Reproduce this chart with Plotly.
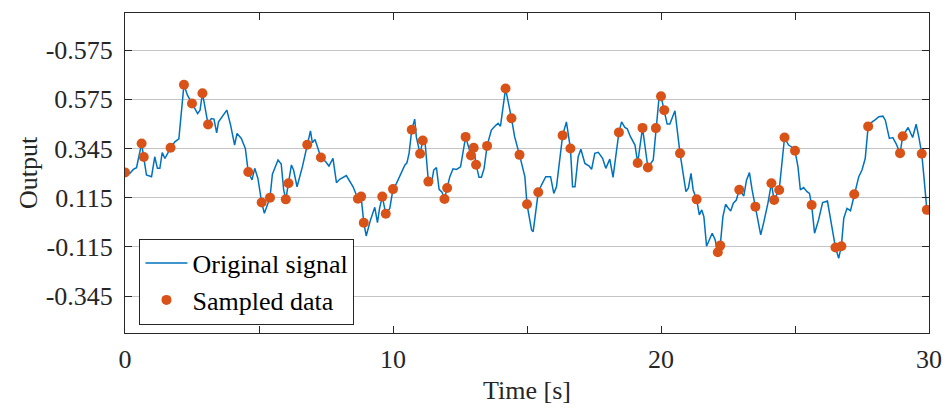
import plotly.graph_objects as go

# Original signal (time in s, output)
signal_t = [
    0.00, 0.18, 0.31, 0.43, 0.62, 0.70, 0.80, 0.99, 1.11, 1.21, 1.30, 1.39, 1.49, 1.70, 1.86, 2.01,
    2.20, 2.33, 2.50, 2.71, 2.80, 2.89, 3.10, 3.22, 3.32, 3.42, 3.49, 3.59, 3.80, 3.94, 4.09, 4.18,
    4.34, 4.49, 4.60, 4.74, 4.84, 4.96, 5.10, 5.20, 5.41, 5.50, 5.71, 5.83, 5.92, 6.00, 6.10, 6.21,
    6.29, 6.42, 6.62, 6.71, 6.80, 6.92, 6.99, 7.09, 7.31, 7.49, 7.61, 7.76, 7.89, 8.01, 8.26, 8.38,
    8.51, 8.69, 8.81, 8.91, 9.00, 9.16, 9.32, 9.42, 9.50, 9.60, 9.73, 9.88, 10.00, 10.13, 10.25, 10.44,
    10.52, 10.60, 10.70, 10.81, 10.87, 11.01, 11.11, 11.19, 11.32, 11.42, 11.52, 11.62, 11.72, 11.83,
    11.92, 12.02, 12.12, 12.24, 12.37, 12.52, 12.71, 12.91, 13.01, 13.10, 13.21, 13.30, 13.40, 13.51,
    13.67, 13.80, 13.92, 14.01, 14.20, 14.42, 14.54, 14.72, 14.86, 14.92, 15.00, 15.17, 15.23, 15.42,
    15.54, 15.70, 15.88, 16.00, 16.10, 16.23, 16.33, 16.47, 16.62, 16.70, 16.79, 16.91, 17.01, 17.16,
    17.32, 17.41, 17.53, 17.66, 17.82, 17.94, 18.09, 18.21, 18.43, 18.53, 18.65, 18.74, 18.86, 19.03,
    19.13, 19.31, 19.51, 19.71, 19.81, 19.93, 20.00, 20.12, 20.23, 20.33, 20.52, 20.71, 20.83, 20.93,
    21.02, 21.12, 21.20, 21.33, 21.43, 21.52, 21.60, 21.70, 21.91, 22.02, 22.12, 22.21, 22.31, 22.41,
    22.50, 22.60, 22.70, 22.81, 22.92, 23.09, 23.19, 23.30, 23.40, 23.52, 23.72, 23.84, 23.99, 24.12,
    24.22, 24.41, 24.61, 24.76, 24.86, 25.00, 25.11, 25.20, 25.32, 25.45, 25.54, 25.62, 25.73, 25.88,
    26.03, 26.21, 26.32, 26.51, 26.63, 26.73, 26.82, 26.94, 27.07, 27.21, 27.38, 27.50, 27.62, 27.73,
    27.88, 28.00, 28.13, 28.28, 28.37, 28.52, 28.65, 28.77, 28.92, 29.02, 29.22, 29.39, 29.52, 29.62,
    29.73, 29.81, 29.92, 30.00,
]
signal_y = [
    0.233, 0.228, 0.247, 0.255, 0.368, 0.305, 0.221, 0.213, 0.306, 0.252, 0.252, 0.326, 0.298, 0.348, 0.376, 0.390,
    0.643, 0.594, 0.555, 0.508, 0.524, 0.603, 0.457, 0.485, 0.482, 0.418, 0.469, 0.485, 0.524, 0.454, 0.361, 0.415,
    0.392, 0.345, 0.235, 0.198, 0.252, 0.205, 0.092, 0.042, 0.115, 0.225, 0.291, 0.272, 0.151, 0.107, 0.182, 0.268,
    0.244, 0.166, 0.260, 0.306, 0.362, 0.427, 0.372, 0.387, 0.303, 0.283, 0.263, 0.299, 0.185, 0.201, 0.218, 0.194,
    0.166, 0.110, 0.120, -0.002, -0.064, 0.011, 0.070, -0.002, 0.066, 0.120, 0.040, 0.065, 0.155, 0.182, 0.213, 0.267,
    0.278, 0.322, 0.432, 0.482, 0.399, 0.320, 0.382, 0.384, 0.190, 0.171, 0.244, 0.256, 0.154, 0.141,
    0.109, 0.160, 0.213, 0.250, 0.247, 0.259, 0.399, 0.312, 0.348, 0.269, 0.210, 0.210, 0.252, 0.357,
    0.431, 0.449, 0.462, 0.449, 0.625, 0.486, 0.399, 0.315, 0.232, 0.213, 0.084, -0.036, -0.044, 0.140,
    0.174, 0.213, 0.213, 0.135, 0.166, 0.306, 0.406, 0.469, 0.345, 0.166, 0.166, 0.306, 0.341, 0.275,
    0.263, 0.247, 0.322, 0.327, 0.299, 0.252, 0.295, 0.210, 0.420, 0.469, 0.443, 0.437, 0.400, 0.361,
    0.277, 0.441, 0.256, 0.291, 0.440, 0.586, 0.589, 0.524, 0.459, 0.459, 0.521, 0.322, 0.229, 0.143,
    0.159, 0.229, 0.151, 0.107, 0.034, 0.058, 0.026, -0.112, -0.051, -0.082, -0.140, -0.109, 0.026, 0.084,
    0.068, 0.053, 0.089, 0.104, 0.152, 0.123, 0.197, 0.232, 0.151, 0.073, -0.059, 0.003, 0.089, 0.182,
    0.104, 0.151, 0.396, 0.361, 0.353, 0.334, 0.260, 0.151, 0.162, 0.143, 0.135, 0.081, -0.051, 0.011,
    0.092, 0.099, 0.026, -0.118, -0.168, -0.112, 0.019, 0.065, 0.054, 0.131, 0.213, 0.244, 0.298, 0.448,
    0.469, 0.480, 0.493, 0.496, 0.477, 0.392, 0.396, 0.368, 0.323, 0.402, 0.443, 0.396, 0.458, 0.399,
    0.320, 0.213, 0.058, 0.040,
]

# Sampled data points
sample_t = [
    0.00, 0.62, 0.70, 1.70, 2.20, 2.50, 2.89, 3.10, 4.60, 5.10, 5.41, 6.00, 6.10, 6.80, 7.31, 8.69,
    8.81, 8.91, 9.60, 9.73, 10.00, 10.70, 11.01, 11.11, 11.32, 11.92, 12.02, 12.71, 12.91, 13.01, 13.10,
    13.51, 14.20, 14.42, 14.72, 15.00, 15.42, 16.33, 16.62, 18.43, 19.13, 19.31, 19.51, 19.81, 20.00,
    20.12, 20.71, 21.33, 22.12, 22.21, 22.92, 23.52, 24.12, 24.22, 24.41, 24.61, 25.00, 25.62, 26.51,
    26.73, 27.21, 27.73, 28.92, 29.02, 29.73, 29.92,
]
sample_y = [
    0.233, 0.368, 0.305, 0.348, 0.643, 0.555, 0.603, 0.457, 0.235, 0.092, 0.115, 0.107, 0.182, 0.362, 0.303, 0.110,
    0.120, -0.002, 0.120, 0.040, 0.155, 0.432, 0.320, 0.382, 0.190, 0.109, 0.160, 0.399, 0.312, 0.348, 0.269,
    0.357, 0.625, 0.486, 0.315, 0.084, 0.140, 0.406, 0.345, 0.420, 0.277, 0.441, 0.256, 0.440, 0.589,
    0.524, 0.322, 0.107, -0.140, -0.109, 0.152, 0.073, 0.182, 0.104, 0.151, 0.396, 0.334, 0.081, -0.118,
    -0.112, 0.131, 0.448, 0.323, 0.402, 0.320, 0.058,
]

# Axis ticks
x_tickvals = [0, 5, 10, 15, 20, 25, 30]
x_ticktext = ["0", "", "10", "", "20", "", "30"]
y_tickvals = [-0.345, -0.115, 0.115, 0.345, 0.575, 0.805]
y_ticktext = ["-0.345", "-0.115", "0.115", "0.345", "0.575", "-0.575"]

FONT = "'Liberation Serif', 'Times New Roman', Times, serif"
AXIS_COLOR = "#262626"

fig = go.Figure()
fig.add_trace(go.Scatter(
    x=signal_t, y=signal_y, mode="lines", name="Original signal",
    line=dict(color="#0072BD", width=1.5),
))
fig.add_trace(go.Scatter(
    x=sample_t, y=sample_y, mode="markers", name="Sampled data",
    marker=dict(color="#D95319", size=10, line=dict(width=0)),
))

fig.update_layout(
    width=945, height=409,
    margin=dict(l=125, r=16, t=13, b=76),
    paper_bgcolor="white", plot_bgcolor="white",
    font=dict(family=FONT, size=26, color=AXIS_COLOR),
    showlegend=True,
    legend=dict(
        x=0.018, y=0.026, xanchor="left", yanchor="bottom",
        bgcolor="white", bordercolor=AXIS_COLOR, borderwidth=1,
        font=dict(family=FONT, size=26, color="black"),
        tracegroupgap=0, itemwidth=42,
    ),
)
fig.update_xaxes(
    range=[0, 30], tickvals=x_tickvals, ticktext=x_ticktext,
    showgrid=False, zeroline=False, automargin=False,
    showline=True, linecolor=AXIS_COLOR, linewidth=1, mirror="ticks",
    ticks="inside", ticklen=7, tickcolor=AXIS_COLOR,
    ticklabelstandoff=3,
    title=dict(text="Time [s]", font=dict(family=FONT, size=26, color=AXIS_COLOR), standoff=7),
)
fig.update_yaxes(
    range=[-0.5175, 0.978], tickvals=y_tickvals, ticktext=y_ticktext,
    showgrid=True, gridcolor="#c4c4c4", gridwidth=1, zeroline=False, automargin=False,
    showline=True, linecolor=AXIS_COLOR, linewidth=1, mirror="ticks",
    ticks="inside", ticklen=7, tickcolor=AXIS_COLOR,
    ticklabelstandoff=6,
    title=dict(text="Output", font=dict(family=FONT, size=26, color=AXIS_COLOR), standoff=0),
)

fig.write_html("out.html")
